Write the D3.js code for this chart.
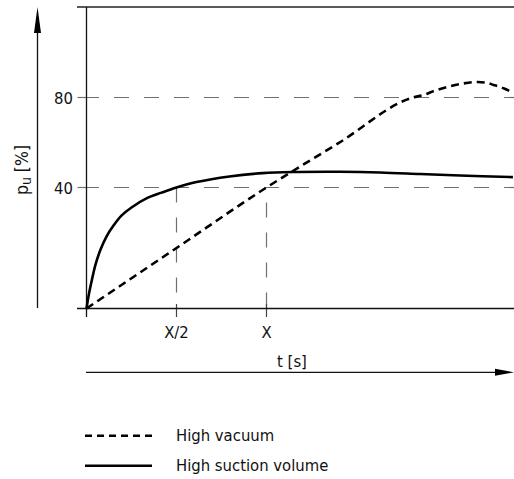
<!DOCTYPE html>
<html><head><meta charset="utf-8">
<script src="https://cdn.jsdelivr.net/npm/d3@7"></script>
<style>
html,body{margin:0;padding:0;background:#fff;}
svg{display:block;}
text{font-family:"DejaVu Sans Condensed","DejaVu Sans",sans-serif;font-stretch:condensed;fill:#111;}
</style></head>
<body>
<svg id="c" width="514" height="479"></svg>
<script>
// ---- data ----
const yTickValues = [40, 80];
const yTickLabels = ["40", "80"];
const xTickValues = [0.5, 1];
const xTickLabels = ["X/2", "X"];
// High vacuum (dashed): t in units of X, value in % (schematic)
const vacuumT = [0, 0.5, 1, 1.4, 1.814, 1.872, 1.94, 2.006, 2.09, 2.172, 2.22, 2.261, 2.32, 2.372];
const vacuumV = [0, 20, 40, 59.7, 80, 81.1, 83.2, 84.7, 86.2, 86.9, 86.6, 85.6, 84.0, 82.0];
// High suction volume (solid)
const suctionT = [0, 0.011, 0.028, 0.05, 0.078, 0.111, 0.15, 0.194, 0.25, 0.333, 0.417, 0.5, 0.611, 0.794, 0.978, 1.167, 1.408, 1.631, 1.853, 2.075, 2.369];
const suctionV = [0, 4.0, 8.9, 14.5, 19.5, 23.8, 27.4, 30.7, 33.4, 36.4, 38.3, 40, 42.4, 44.9, 46.4, 46.9, 47.0, 46.7, 46.0, 45.3, 44.6];
const legendLabels = ["High vacuum", "High suction volume"];

// ---- scales ----
const x = d3.scaleLinear().domain([0, 1]).range([86.5, 266.5]);
const y = d3.scaleLinear().domain([0, 40, 80, 120]).range([308.5, 187.5, 97.5, 7.5]);

const svg = d3.select("#c");
const gray = "#707070";

// top frame line
svg.append("line").attr("x1", 77).attr("x2", 514).attr("y1", 7).attr("y2", 7)
  .attr("stroke", "#222").attr("stroke-width", 1.6);

// horizontal reference lines
yTickValues.forEach((v, i) => {
  svg.append("line").attr("x1", 77.5).attr("x2", x(0)).attr("y1", y(v)).attr("y2", y(v))
    .attr("stroke", gray).attr("stroke-width", 1.2);
  svg.append("line").attr("x1", 84).attr("x2", 514).attr("y1", y(v)).attr("y2", y(v))
    .attr("stroke", gray).attr("stroke-width", 1.2).attr("stroke-dasharray", "15,15");
  svg.append("text").attr("x", 73).attr("y", y(v) + 6).attr("text-anchor", "end")
    .attr("font-size", 16.5).text(yTickLabels[i]);
});

// vertical reference lines
xTickValues.forEach((t, i) => {
  svg.append("line").attr("x1", x(t)).attr("x2", x(t)).attr("y1", y(40)).attr("y2", 308)
    .attr("stroke", gray).attr("stroke-width", 1.2).attr("stroke-dasharray", "15,15")
    .attr("stroke-dashoffset", i === 0 ? 0 : 15);
  svg.append("line").attr("x1", x(t)).attr("x2", x(t)).attr("y1", 304).attr("y2", 317)
    .attr("stroke", "#444").attr("stroke-width", 1.2);
  svg.append("text").attr("x", x(t)).attr("y", 337.5).attr("text-anchor", "middle")
    .attr("font-size", 16.5).text(xTickLabels[i]);
});

// axes lines
svg.append("line").attr("x1", x(0)).attr("x2", x(0)).attr("y1", 7).attr("y2", 317)
  .attr("stroke", "#111").attr("stroke-width", 1.3);
svg.append("line").attr("x1", 77).attr("x2", 514).attr("y1", y(0)).attr("y2", y(0))
  .attr("stroke", "#111").attr("stroke-width", 1.3);

// curves
const lineSmooth = d3.line().x(d => x(d[0])).y(d => y(d[1])).curve(d3.curveCatmullRom.alpha(0.5));
const lineMono = d3.line().x(d => x(d[0])).y(d => y(d[1])).curve(d3.curveMonotoneX);
const suction = suctionT.map((t, i) => [t, suctionV[i]]);
const vacuum = vacuumT.map((t, i) => [t, vacuumV[i]]);
svg.append("path").attr("d", lineSmooth(suction)).attr("fill", "none")
  .attr("stroke", "#000").attr("stroke-width", 2.6);
svg.append("path").attr("d", lineMono(vacuum)).attr("fill", "none")
  .attr("stroke", "#000").attr("stroke-width", 2.6).attr("stroke-dasharray", "8,5");

// y arrow
svg.append("line").attr("x1", 37.5).attr("x2", 37.5).attr("y1", 30).attr("y2", 308)
  .attr("stroke", "#111").attr("stroke-width", 1.3);
svg.append("path").attr("d", "M37.5,7 L41,33 L34,33 Z").attr("fill", "#000");
// y label
const yl = svg.append("text").attr("transform", "translate(28,170) rotate(-90)")
  .attr("text-anchor", "middle").attr("font-size", 17.5);
yl.append("tspan").text("p");
yl.append("tspan").attr("font-size", 14).attr("dy", 3).text("u");
yl.append("tspan").attr("dy", -3).text(" [%]");

// x arrow
svg.append("line").attr("x1", 86).attr("x2", 500).attr("y1", 372.3).attr("y2", 372.3)
  .attr("stroke", "#111").attr("stroke-width", 1.3);
svg.append("path").attr("d", "M514,372.3 L495,368.8 L495,375.8 Z").attr("fill", "#000");
svg.append("text").attr("x", 292).attr("y", 367).attr("text-anchor", "middle")
  .attr("font-size", 16.5).text("t [s]");

// legend
const legY = [435.7, 465.7];
legendLabels.forEach((lab, i) => {
  svg.append("line").attr("x1", 85).attr("x2", 152).attr("y1", legY[i]).attr("y2", legY[i])
    .attr("stroke", "#000").attr("stroke-width", 2.6)
    .attr("stroke-dasharray", i === 0 ? "7,5" : null);
  svg.append("text").attr("x", 176).attr("y", legY[i] + 5.5).attr("font-size", 16.5).text(lab);
});
</script>
</body></html>
